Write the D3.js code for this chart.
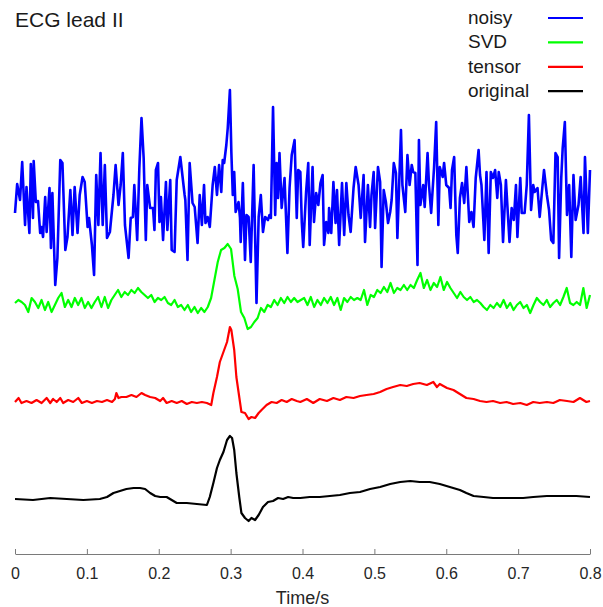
<!DOCTYPE html>
<html lang="en">
<head>
    <meta charset="UTF-8">
    <title>ECG lead II</title>
    <script src="https://d3js.org/d3.v7.min.js"></script>
    <style>
        body {
            margin: 0;
            background: #fff;
            font-family: "Liberation Sans", Arial, sans-serif;
        }
        svg {
            display: block;
        }
    </style>
</head>
<body>
    <svg width="603" height="607"></svg>

    <script>
        // legend order and colours
        const seriesNames = ["noisy", "SVD", "tensor", "original"];
        const seriesColors = ["#0000ff", "#00ff00", "#ff0000", "#000000"];
        // vertical stacking offset of each trace (amplitude units)
        const seriesOffsets = [3, 2, 1, 0];
        const xTicks = [0, 0.1, 0.2, 0.3, 0.4, 0.5, 0.6, 0.7, 0.8];

        // noisy trace, [time s, amplitude]
        const noisy = [
            [0.000, -0.14], [0.003, 0.15], [0.007, -0.01], [0.010, 0.37], [0.014, -0.26], [0.016, 0.12],
            [0.020, -0.34], [0.022, 0.35], [0.025, -0.19], [0.026, 0.38], [0.029, -0.03], [0.032, -0.02],
            [0.035, -0.34], [0.037, -0.28], [0.039, -0.38], [0.042, 0.02], [0.044, -0.33], [0.048, 0.11],
            [0.050, -0.49], [0.052, 0.06], [0.056, -0.86], [0.059, -0.59], [0.063, 0.39], [0.066, 0.36],
            [0.070, -0.51], [0.073, -0.38], [0.077, 0.09], [0.080, -0.36], [0.083, 0.12], [0.087, -0.34],
            [0.090, 0.04], [0.094, 0.22], [0.097, 0.17], [0.101, -0.28], [0.103, -0.19], [0.107, -0.46],
            [0.110, -0.76], [0.113, 0.24], [0.116, -0.26], [0.119, 0.46], [0.122, -0.26], [0.125, 0.34],
            [0.128, -0.39], [0.132, -0.33], [0.137, 0.04], [0.140, 0.34], [0.144, -0.06], [0.147, 0.14],
            [0.150, 0.46], [0.153, -0.26], [0.158, -0.59], [0.161, -0.19], [0.164, -0.18], [0.166, 0.14],
            [0.170, -0.41], [0.173, 0.31], [0.176, 0.81], [0.179, 0.41], [0.182, -0.41], [0.184, 0.14],
            [0.188, -0.09], [0.192, -0.09], [0.194, -0.31], [0.196, 0.29], [0.199, 0.36], [0.201, -0.23],
            [0.203, 0.02], [0.206, -0.41], [0.210, 0.17], [0.212, -0.31], [0.216, 0.19], [0.218, -0.51],
            [0.222, -0.53], [0.225, 0.19], [0.230, 0.42], [0.236, 0.04], [0.237, -0.01], [0.240, -0.61],
            [0.243, 0.36], [0.247, -0.04], [0.250, -0.08], [0.254, -0.44], [0.257, 0.04], [0.260, -0.26],
            [0.263, 0.14], [0.265, -0.24], [0.268, -0.18], [0.271, -0.28], [0.275, 0.14], [0.278, 0.32],
            [0.281, 0.04], [0.284, 0.34], [0.287, 0.07], [0.289, 0.39], [0.291, 0.36], [0.294, 0.54],
            [0.296, 0.71], [0.299, 1.09], [0.301, 0.47], [0.303, 0.04], [0.305, 0.27], [0.307, -0.13],
            [0.311, -0.03], [0.313, -0.19], [0.314, -0.43], [0.317, 0.16], [0.320, -0.61], [0.322, -0.16],
            [0.325, -0.18], [0.328, -0.63], [0.332, 0.34], [0.336, -1.04], [0.339, -0.18], [0.342, 0.04],
            [0.345, -0.33], [0.348, -0.18], [0.352, -0.21], [0.354, -0.16], [0.356, -0.19], [0.359, 0.92],
            [0.362, -0.16], [0.364, 0.36], [0.366, 0.01], [0.368, 0.46], [0.371, -0.09], [0.375, 0.21],
            [0.379, -0.54], [0.382, 0.11], [0.385, 0.44], [0.389, 0.59], [0.392, -0.19], [0.394, 0.29],
            [0.397, 0.27], [0.399, -0.23], [0.401, -0.48], [0.405, 0.07], [0.408, 0.36], [0.410, -0.46],
            [0.414, 0.32], [0.416, -0.23], [0.419, 0.06], [0.422, -0.06], [0.425, 0.16], [0.428, 0.24],
            [0.430, -0.46], [0.433, -0.23], [0.436, -0.34], [0.437, -0.09], [0.440, -0.34], [0.443, 0.17],
            [0.446, -0.24], [0.448, 0.09], [0.451, -0.46], [0.455, 0.16], [0.458, -0.36], [0.461, 0.16],
            [0.464, -0.16], [0.467, -0.33], [0.471, 0.11], [0.474, 0.32], [0.478, 0.14], [0.481, -0.19],
            [0.485, 0.24], [0.487, -0.43], [0.491, 0.14], [0.494, -0.28], [0.496, 0.04], [0.499, 0.27],
            [0.501, -0.29], [0.505, 0.32], [0.508, 0.17], [0.510, -0.68], [0.513, 0.09], [0.516, -0.03],
            [0.519, -0.24], [0.522, -0.13], [0.524, -0.01], [0.527, 0.36], [0.530, 0.26], [0.532, -0.39],
            [0.537, 0.69], [0.539, 0.14], [0.543, -0.13], [0.546, 0.44], [0.549, 0.14], [0.552, 0.34],
            [0.554, 0.27], [0.557, 0.26], [0.560, -0.66], [0.562, 0.59], [0.564, -0.06], [0.568, 0.14],
            [0.570, -0.08], [0.574, 0.46], [0.576, 0.14], [0.579, -0.14], [0.583, 0.31], [0.586, 0.77],
            [0.589, -0.26], [0.591, 0.32], [0.595, 0.22], [0.597, 0.36], [0.600, 0.14], [0.604, 0.11],
            [0.606, -0.09], [0.608, 0.29], [0.611, 0.42], [0.614, -0.36], [0.616, -0.54], [0.619, 0.01],
            [0.622, 0.16], [0.625, -0.04], [0.628, 0.32], [0.632, -0.23], [0.635, -0.13], [0.638, -0.28],
            [0.641, 0.21], [0.645, 0.49], [0.647, 0.24], [0.649, 0.14], [0.653, -0.41], [0.656, 0.27],
            [0.659, -0.54], [0.662, 0.27], [0.665, 0.21], [0.668, 0.29], [0.671, 0.01], [0.673, 0.27],
            [0.676, 0.14], [0.679, -0.43], [0.683, 0.19], [0.685, -0.06], [0.688, -0.43], [0.691, -0.09],
            [0.694, -0.21], [0.697, 0.14], [0.699, -0.38], [0.703, 0.21], [0.705, -0.14], [0.709, -0.14],
            [0.712, 0.14], [0.715, 0.84], [0.718, -0.11], [0.721, 0.14], [0.723, 0.07], [0.727, 0.11],
            [0.730, -0.18], [0.734, 0.14], [0.736, 0.29], [0.740, 0.04], [0.743, -0.11], [0.746, -0.41],
            [0.749, -0.44], [0.752, 0.46], [0.755, 0.42], [0.757, -0.59], [0.760, 0.21], [0.762, 0.51],
            [0.765, 0.77], [0.768, -0.16], [0.771, 0.14], [0.774, -0.58], [0.777, 0.24], [0.780, -0.21],
            [0.784, -0.06], [0.787, 0.22], [0.791, -0.34], [0.793, 0.42], [0.797, -0.34], [0.800, 0.29]
        ];

        // SVD denoised trace, evenly sampled over 0..0.8 s
        const svd = [
            -0.04, -0.01, -0.03, -0.06, -0.13, 0.01, -0.03, -0.09, -0.01, -0.11,
            -0.03, -0.13, -0.06, 0.01, 0.06, -0.08, -0.01, -0.08, 0.01, -0.06,
            0.01, -0.09, -0.03, -0.09, -0.03, 0.02, -0.08, 0.02, -0.09, -0.01,
            0.04, 0.09, 0.02, 0.07, 0.04, 0.09, 0.06, 0.11, 0.07, 0.04,
            0.01, 0.04, -0.03, 0.01, -0.01, 0.02, -0.04, -0.06, -0.01, -0.08,
            -0.06, -0.11, -0.06, -0.13, -0.08, -0.14, -0.09, -0.13, -0.08, 0.01,
            0.19, 0.37, 0.49, 0.51, 0.55, 0.50, 0.23, 0.10, -0.13, -0.19,
            -0.30, -0.28, -0.23, -0.19, -0.09, -0.13, -0.06, -0.08, -0.01, -0.06,
            0.01, -0.04, 0.02, -0.03, 0.01, -0.03,
            -0.01, 0.01, -0.06, 0.02, -0.08, -0.01, -0.06, 0.01, -0.04, 0.02,
            -0.06, 0.01, -0.11, 0.01, -0.03, 0.02, -0.01, 0.01, -0.01, 0.09,
            -0.06, 0.04, 0.02, 0.09, 0.06, 0.12, 0.07, 0.16, 0.06, 0.11,
            0.09, 0.14, 0.09, 0.14, 0.11, 0.19, 0.26, 0.11, 0.19, 0.09,
            0.16, 0.12, 0.22, 0.09, 0.17, 0.11, 0.06, 0.01, 0.07, 0.02,
            -0.01, 0.02, -0.03, -0.01, -0.04, -0.08, -0.11, -0.06, -0.09, -0.04,
            -0.08, -0.01, -0.09, -0.04, -0.11, -0.06, -0.03, -0.09, -0.06, -0.14,
            -0.06, 0.01, -0.03, -0.06, -0.01, -0.08, -0.04, -0.01, -0.06, 0.02,
            0.11, -0.04, -0.06, -0.03, -0.06, 0.11, -0.09, 0.04
        ];

        // tensor denoised trace, [time s, amplitude]
        const tensor = [
            [0.000, -0.03], [0.005, 0.01], [0.009, -0.04], [0.016, -0.02], [0.023, -0.04], [0.030, -0.01],
            [0.037, -0.04], [0.044, 0.01], [0.049, -0.04], [0.053, 0.00], [0.058, -0.03], [0.063, 0.01],
            [0.067, -0.04], [0.074, -0.01], [0.081, -0.03], [0.088, 0.01], [0.093, -0.04], [0.100, -0.02],
            [0.107, -0.04], [0.114, -0.02], [0.121, -0.03], [0.128, -0.01], [0.135, -0.03], [0.139, 0.00],
            [0.141, 0.06], [0.144, 0.01], [0.148, 0.02], [0.155, 0.02], [0.162, 0.04], [0.169, 0.02],
            [0.176, 0.06], [0.181, 0.04], [0.188, 0.02], [0.195, 0.01], [0.202, -0.02], [0.206, 0.01],
            [0.211, -0.04], [0.218, -0.02], [0.225, -0.04], [0.232, -0.02], [0.239, -0.05], [0.246, -0.03],
            [0.253, -0.04], [0.260, -0.03], [0.267, -0.04], [0.273, -0.06], [0.276, 0.06], [0.281, 0.22],
            [0.285, 0.37], [0.290, 0.47], [0.295, 0.57], [0.299, 0.72], [0.301, 0.69], [0.305, 0.49],
            [0.308, 0.22], [0.312, 0.02], [0.315, -0.13], [0.320, -0.14], [0.325, -0.20], [0.329, -0.18],
            [0.334, -0.19], [0.339, -0.14], [0.343, -0.11], [0.350, -0.06], [0.357, -0.03], [0.364, -0.04],
            [0.371, -0.01], [0.378, -0.03], [0.385, 0.00], [0.392, -0.02], [0.397, -0.03], [0.406, 0.00],
            [0.415, -0.04], [0.424, 0.00], [0.434, -0.02], [0.443, 0.01], [0.452, -0.01], [0.461, 0.02],
            [0.471, 0.01], [0.480, 0.03], [0.489, 0.04], [0.499, 0.05], [0.508, 0.07], [0.517, 0.10],
            [0.526, 0.12], [0.536, 0.14], [0.545, 0.13], [0.554, 0.15], [0.563, 0.16], [0.573, 0.14],
            [0.582, 0.17], [0.587, 0.12], [0.591, 0.15], [0.601, 0.11], [0.610, 0.09], [0.619, 0.05],
            [0.628, 0.01], [0.638, 0.00], [0.647, -0.02], [0.656, -0.03], [0.665, -0.02], [0.675, -0.04],
            [0.684, -0.03], [0.693, -0.05], [0.703, -0.04], [0.712, -0.06], [0.721, -0.03], [0.730, -0.04],
            [0.740, -0.03], [0.749, -0.04], [0.758, -0.01], [0.768, -0.02], [0.777, -0.03], [0.786, 0.01],
            [0.795, -0.03], [0.800, -0.02]
        ];

        // clean original trace, [time s, amplitude]
        const original = [
            [0.000, 0.00], [0.025, -0.01], [0.049, 0.01], [0.072, 0.00], [0.095, -0.01], [0.118, 0.00],
            [0.128, 0.02], [0.137, 0.06], [0.146, 0.08], [0.155, 0.10], [0.165, 0.11], [0.174, 0.11],
            [0.181, 0.10], [0.188, 0.06], [0.195, 0.03], [0.202, 0.02], [0.211, 0.02], [0.218, -0.01],
            [0.225, -0.04], [0.239, -0.04], [0.253, -0.05], [0.267, -0.06], [0.271, 0.02], [0.276, 0.16],
            [0.281, 0.31], [0.285, 0.39], [0.290, 0.47], [0.295, 0.59], [0.299, 0.63], [0.302, 0.61],
            [0.305, 0.49], [0.308, 0.26], [0.312, 0.02], [0.315, -0.14], [0.320, -0.19], [0.325, -0.22],
            [0.329, -0.19], [0.334, -0.21], [0.339, -0.16], [0.345, -0.08], [0.352, -0.03], [0.359, -0.02],
            [0.366, 0.01], [0.373, 0.00], [0.380, 0.02], [0.387, 0.01], [0.397, 0.01], [0.410, 0.02],
            [0.424, 0.02], [0.438, 0.03], [0.452, 0.04], [0.466, 0.06], [0.480, 0.07], [0.494, 0.10],
            [0.508, 0.12], [0.522, 0.15], [0.536, 0.17], [0.550, 0.18], [0.563, 0.17], [0.577, 0.17],
            [0.591, 0.15], [0.605, 0.12], [0.619, 0.09], [0.628, 0.06], [0.638, 0.03], [0.652, 0.02],
            [0.665, 0.01], [0.679, 0.01], [0.693, 0.01], [0.707, 0.01], [0.721, 0.02], [0.740, 0.03],
            [0.758, 0.03], [0.781, 0.03], [0.800, 0.02]
        ];

        const svg = d3.select("svg");

        const x = d3.scaleLinear().domain([0, 0.8]).range([15, 590]);
        const y = d3.scaleLinear().domain([0, 3]).range([499, 199]);
        const axisY = 554;

        const svdDt = 0.8 / (svd.length - 1);
        const traces = [
            noisy,
            svd.map((v, i) => [i * svdDt, v]),
            tensor,
            original
        ];

        const line = d3.line()
            .x(d => x(d[0]))
            .y(d => y(d[1]));

        // draw bottom trace first so the noisy one sits on top
        const drawOrder = [3, 2, 1, 0];
        drawOrder.forEach(k => {
            const off = seriesOffsets[k];
            svg.append("path")
                .datum(traces[k].map(d => [d[0], d[1] + off]))
                .attr("d", line)
                .attr("fill", "none")
                .attr("stroke", seriesColors[k])
                .attr("stroke-width", k === 0 ? 2.6 : 2.2)
                .attr("stroke-linejoin", "round");
        });

        // x axis
        const xAxis = d3.axisBottom(x)
            .tickValues(xTicks)
            .tickFormat(d3.format("~g"))
            .tickSizeInner(-5)
            .tickSizeOuter(0)
            .tickPadding(14);

        const gx = svg.append("g")
            .attr("transform", `translate(0,${axisY})`)
            .call(xAxis);
        gx.select(".domain").attr("stroke", "#7a7a7a");
        gx.selectAll(".tick line").attr("stroke", "#7a7a7a");
        gx.selectAll(".tick text")
            .attr("fill", "#262626")
            .style("font-size", "16px")
            .style("font-family", "'Liberation Sans', Arial, sans-serif");

        svg.append("text")
            .attr("x", (x(0) + x(0.8)) / 2)
            .attr("y", 604)
            .attr("text-anchor", "middle")
            .attr("fill", "#262626")
            .style("font-size", "18px")
            .text("Time/s");

        // title
        svg.append("text")
            .attr("x", 15)
            .attr("y", 27)
            .attr("fill", "#1a1a1a")
            .style("font-size", "21px")
            .text("ECG lead II");

        // legend
        const legend = svg.append("g").attr("transform", "translate(468,24)");
        seriesNames.forEach((name, i) => {
            const row = legend.append("g").attr("transform", `translate(0,${i * 24.4})`);
            row.append("text")
                .attr("x", 0)
                .attr("y", 0)
                .attr("fill", "#1a1a1a")
                .style("font-size", "19px")
                .text(name);
            row.append("line")
                .attr("x1", 80).attr("x2", 115)
                .attr("y1", -6).attr("y2", -6)
                .attr("stroke", seriesColors[i])
                .attr("stroke-width", 2.2);
        });
    </script>
</body>
</html>
